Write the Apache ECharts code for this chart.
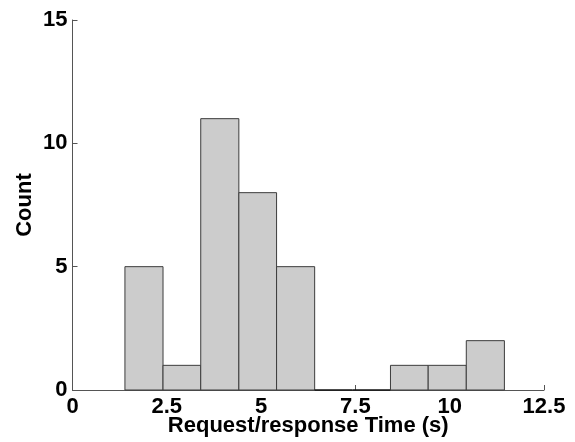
<!DOCTYPE html>
<html>
<head>
<meta charset="utf-8">
<script src="https://cdn.jsdelivr.net/npm/echarts@6/dist/echarts.min.js"></script>
<style>
html,body{margin:0;padding:0;background:#fff;}
#chart{width:575px;height:442px;}
</style>
</head>
<body>
<div id="chart"></div>
<script>
// Histogram bin edges (seconds) and counts per bin
const binEdges = [1.39, 2.40, 3.40, 4.41, 5.41, 6.42, 7.42, 8.43, 9.43, 10.44, 11.45];
const counts = [5, 1, 11, 8, 5, 0, 0, 1, 1, 2];
const xTicks = [0, 2.5, 5, 7.5, 10, 12.5];
const yTicks = [0, 5, 10, 15];
const xTitle = 'Request/response Time (s)';
const yTitle = 'Count';

const data = counts.map((c, i) => [binEdges[i], binEdges[i + 1], c]);

const font = "'Liberation Sans', Arial, Helvetica, sans-serif";
const chart = echarts.init(document.getElementById('chart'), null, {renderer: 'canvas'});
chart.setOption({
  animation: false,
  backgroundColor: '#fff',
  grid: {left: 72.5, right: 31, top: 20, bottom: 52, containLabel: false, outerBoundsMode: 'none'},
  xAxis: {
    type: 'value',
    min: xTicks[0], max: xTicks[xTicks.length - 1], interval: 2.5,
    name: xTitle, nameLocation: 'middle', nameGap: 25, nameMoveOverlap: false,
    nameTextStyle: {fontFamily: font, fontWeight: 'bold', fontSize: 22, color: '#000'},
    axisLine: {show: true, lineStyle: {color: '#555', width: 1}},
    axisTick: {show: true, inside: true, length: 5, lineStyle: {color: '#555'}},
    axisLabel: {margin: 6, fontFamily: font, fontWeight: 'bold', fontSize: 22, color: '#000',
      formatter: v => String(v)},
    splitLine: {show: false}
  },
  yAxis: {
    type: 'value',
    min: yTicks[0], max: yTicks[yTicks.length - 1], interval: 5,
    name: yTitle, nameLocation: 'middle', nameGap: 37, nameRotate: 90, nameMoveOverlap: false,
    nameTextStyle: {fontFamily: font, fontWeight: 'bold', fontSize: 22, color: '#000'},
    axisLine: {show: true, lineStyle: {color: '#555', width: 1}},
    axisTick: {show: true, inside: true, length: 5, lineStyle: {color: '#555'}},
    axisLabel: {margin: 5, fontFamily: font, fontWeight: 'bold', fontSize: 22, color: '#000'},
    splitLine: {show: false}
  },
  series: [{
    type: 'custom',
    data: data,
    encode: {x: [0, 1], y: 2},
    renderItem: function (params, api) {
      const p0 = api.coord([api.value(0), api.value(2)]);
      const p1 = api.coord([api.value(1), 0]);
      const h = p1[1] - p0[1];
      if (h <= 0) {
        return {
          type: 'line',
          shape: {x1: p0[0], y1: p1[1], x2: p1[0], y2: p1[1]},
          style: {stroke: '#111', lineWidth: 1.5}
        };
      }
      return {
        type: 'rect',
        shape: {x: p0[0], y: p0[1], width: p1[0] - p0[0], height: h},
        style: {fill: '#cccccc', stroke: '#3c3c3c', lineWidth: 1}
      };
    }
  }]
});
</script>
</body>
</html>
